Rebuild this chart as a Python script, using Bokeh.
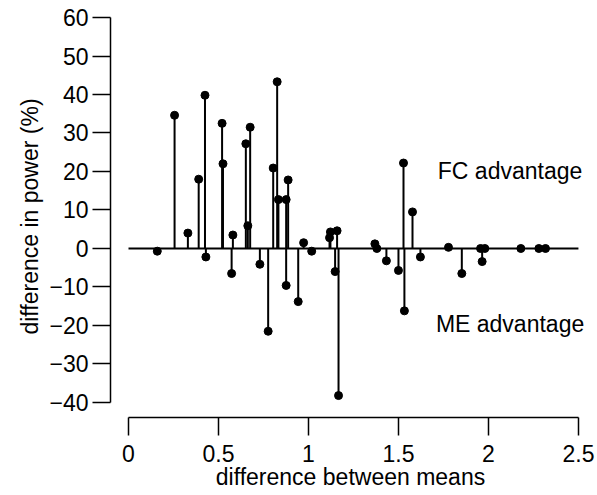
from bokeh.plotting import figure
from bokeh.models import Range1d, FixedTicker, CustomJSTickFormatter, ColumnDataSource, Label
from bokeh.embed import file_html
from bokeh.resources import INLINE

# ---- data ----
diff_means = [0.16, 0.256, 0.33, 0.39, 0.425, 0.43, 0.52, 0.525, 0.573, 0.58,
              0.652, 0.663, 0.676, 0.73, 0.776, 0.804, 0.826, 0.833, 0.876, 0.876,
              0.887, 0.943, 0.973, 1.018, 1.117, 1.122, 1.148, 1.159, 1.167, 1.369,
              1.38, 1.433, 1.50, 1.528, 1.533, 1.578, 1.622, 1.778, 1.852, 1.956,
              1.965, 1.98, 2.18, 2.28, 2.317]
diff_power = [-0.7, 34.6, 4.0, 18.0, 39.8, -2.2, 32.5, 22.0, -6.5, 3.5,
              27.2, 5.9, 31.5, -4.1, -21.5, 20.9, 43.3, 12.7, 12.7, -9.6,
              17.8, -13.8, 1.5, -0.7, 2.8, 4.3, -6.0, 4.6, -38.2, 1.2,
              0.0, -3.2, -5.7, 22.2, -16.2, 9.5, -2.2, 0.3, -6.5, 0.0,
              -3.4, 0.0, 0.0, 0.0, 0.0]
x_ticks = [0, 0.5, 1, 1.5, 2, 2.5]
y_ticks = [-40, -30, -20, -10, 0, 10, 20, 30, 40, 50, 60]
x_label = "difference between means"
y_label = "difference in power (%)"
upper_note = "FC advantage"
lower_note = "ME advantage"

FONT = "Liberation Sans"
FS = "23px"

src = ColumnDataSource(data=dict(x=diff_means, y=diff_power))

p = figure(width=597, height=495, output_backend="svg", toolbar_location=None,
           x_range=Range1d(-0.1, 2.567), y_range=Range1d(-43.9, 60.52),
           min_border_left=110, min_border_right=7, min_border_top=15,
           min_border_bottom=78)
p.grid.visible = False
p.outline_line_color = None
p.background_fill_color = "white"
p.border_fill_color = "white"

fmt = CustomJSTickFormatter(code="return tick.toString().replace('-', '\\u2212');")

for ax, ticks, lab in ((p.xaxis[0], x_ticks, x_label), (p.yaxis[0], y_ticks, y_label)):
    ax.ticker = FixedTicker(ticks=ticks)
    ax.formatter = fmt
    ax.bounds = (ticks[0], ticks[-1])
    ax.axis_label = lab
    ax.axis_label_text_font = FONT
    ax.axis_label_text_font_size = FS
    ax.axis_label_text_font_style = "normal"
    ax.axis_label_text_color = "black"
    ax.major_label_text_font = FONT
    ax.major_label_text_font_size = FS
    ax.major_label_text_color = "black"
    ax.major_tick_out = 18
    ax.major_tick_in = 0
    ax.minor_tick_line_color = None
    ax.axis_line_width = 1.5
    ax.major_tick_line_width = 1.5
    ax.axis_line_color = "black"
    ax.major_tick_line_color = "black"

p.xaxis.major_label_standoff = 9
p.xaxis.axis_label_standoff = -1
p.yaxis.major_label_standoff = 4
p.yaxis.axis_label_standoff = 3

# zero reference line
p.line(x=[x_ticks[0], x_ticks[-1]], y=[0, 0], line_color="black", line_width=2)
# stems
p.segment(x0="x", y0=0, x1="x", y1="y", source=src, line_color="black", line_width=2)
# points
p.scatter("x", "y", source=src, size=8, color="black")

p.add_layout(Label(x=2.12, y=20.0, text=upper_note, text_align="center",
                   text_baseline="middle", text_font=FONT, text_font_size=FS,
                   text_color="black"))
p.add_layout(Label(x=2.12, y=-19.7, text=lower_note, text_align="center",
                   text_baseline="middle", text_font=FONT, text_font_size=FS,
                   text_color="black"))

open("out.html", "w").write(file_html(p, INLINE))
